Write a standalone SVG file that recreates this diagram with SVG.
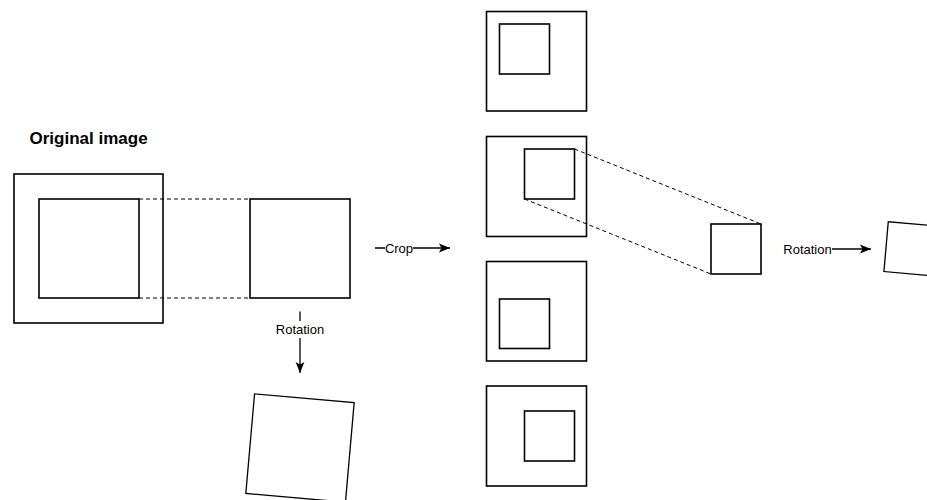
<svg xmlns="http://www.w3.org/2000/svg" width="927" height="500" viewBox="0 0 927 500">
  <style>
    .box { fill: #ffffff; stroke: #000000; stroke-width: 1.6; }
    .thin { fill: #ffffff; stroke: #000000; stroke-width: 1.3; }
    .dash { fill: none; stroke: #000000; stroke-width: 1; stroke-dasharray: 4 3; }
    .edge { fill: none; stroke: #000000; stroke-width: 1.3; }
    .lblbg { fill: #ffffff; stroke: none; }
    .lbl { font-family: "Liberation Sans", Arial, sans-serif; font-size: 13px; fill: #000000; }
    .title { font-family: "Liberation Sans", Arial, sans-serif; font-size: 17px; font-weight: bold; fill: #000000; }
  </style>
  <defs>
    <marker id="arrow" viewBox="0 0 10 8" refX="10" refY="4" markerWidth="11" markerHeight="9.5" markerUnits="userSpaceOnUse" orient="auto">
      <path d="M0,0 L10,4 L0,8 L2.2,4 Z" fill="#000000"/>
    </marker>
  </defs>

  <rect width="927" height="500" fill="#ffffff"/>

  <text class="title" x="29.5" y="143.5">Original image</text>

  <!-- source image with its crop window -->
  <g id="original">
    <rect class="box" x="14" y="174" width="149" height="149"/>
    <rect class="box" x="39" y="199" width="100" height="99"/>
  </g>

  <g id="cropped">
    <rect class="box" x="250" y="199" width="100" height="99"/>
  </g>

  <g id="rotated-large">
    <rect class="thin" x="250" y="398" width="100" height="100" transform="rotate(5 300 448)"/>
  </g>

  <!-- column of crop positions -->
  <g id="crop-1">
    <rect class="box" x="486.5" y="11.5" width="100" height="99.5"/>
    <rect class="box" x="499.5" y="24" width="50" height="50"/>
  </g>
  <g id="crop-2">
    <rect class="box" x="486.5" y="136.5" width="100" height="100"/>
    <rect class="box" x="524.5" y="149" width="50" height="50"/>
  </g>
  <g id="crop-3">
    <rect class="box" x="486.5" y="261.5" width="100" height="99.5"/>
    <rect class="box" x="499.5" y="299" width="50" height="49.5"/>
  </g>
  <g id="crop-4">
    <rect class="box" x="486.5" y="386" width="100" height="100"/>
    <rect class="box" x="524.5" y="411" width="50" height="50"/>
  </g>

  <g id="crop-small">
    <rect class="box" x="711" y="224" width="50" height="50"/>
  </g>

  <g id="rotated-small">
    <rect class="thin" x="886" y="223.8" width="50" height="50" transform="rotate(5 911 248.8)"/>
  </g>

  <g id="connectors">
    <!-- projection lines -->
    <line class="dash" x1="139" y1="199" x2="250" y2="199"/>
    <line class="dash" x1="139" y1="298" x2="250" y2="298"/>
    <line class="dash" x1="574.5" y1="149" x2="761" y2="224"/>
    <line class="dash" x1="524.5" y1="199" x2="711" y2="274"/>

    <!-- rotation (downward) -->
    <line class="edge" x1="300" y1="311.5" x2="300" y2="373" marker-end="url(#arrow)"/>
    <rect class="lblbg" x="274" y="321" width="52" height="17"/>
    <text class="lbl" x="300" y="333.5" text-anchor="middle">Rotation</text>

    <!-- crop -->
    <line class="edge" x1="375" y1="248" x2="450" y2="248" marker-end="url(#arrow)"/>
    <rect class="lblbg" x="385" y="240" width="28" height="16"/>
    <text class="lbl" x="399" y="252.5" text-anchor="middle">Crop</text>

    <!-- rotation (rightward) -->
    <line class="edge" x1="784" y1="249" x2="871" y2="249" marker-end="url(#arrow)"/>
    <rect class="lblbg" x="782" y="241" width="50" height="16"/>
    <text class="lbl" x="807.5" y="253.5" text-anchor="middle">Rotation</text>
  </g>
</svg>
